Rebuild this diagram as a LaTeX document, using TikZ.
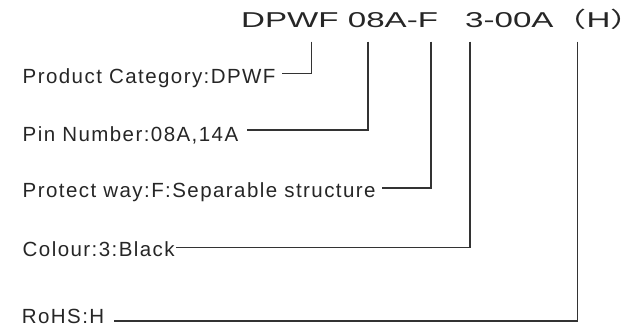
\documentclass[tikz,border=0pt]{standalone}
\usepackage{fontspec}
\setmainfont{Liberation Sans}
\newfontfamily\lblfont[LetterSpace=7]{Liberation Sans}
\newfontfamily\cjk{Noto Sans CJK SC}
\begin{document}
\begin{tikzpicture}[x=1pt,y=-1pt,
  lbl/.style={anchor=base west,inner sep=0pt,font=\fontsize{20.5}{23}\lblfont,text=black!85},
  lead/.style={draw=black!80,line width=1.3pt},
  ttl/.style={anchor=base west,inner sep=0pt,text=black!85}]
\useasboundingbox (0,0) rectangle (638,329);
\node[ttl] (title) at (241,27.3) {\scalebox{1.54}[1]{\fontsize{21.5}{24}\selectfont DPWF 08A-F\hspace{0.82em}3-00A{\cjk （}H\makebox[0.3em][l]{\cjk ）}}};
\node[lbl] (cat) at (22.5,84) {Product Category:DPWF};
\node[lbl] (pin) at (22.5,142) {Pin Number:08A,14A};
\node[lbl] (prot) at (22.5,197.3) {Protect way:F:Separable structure};
\node[lbl] (col) at (22.5,256.7) {Colour:3:Black};
\node[lbl] (rohs) at (21.7,323.3) {RoHS:H};
\coordinate (t1) at (311.7,41.7);
\coordinate (t2) at (368,41.7);
\coordinate (t3) at (431,41.7);
\coordinate (t4) at (470,41.7);
\coordinate (t5) at (577.7,41.7);
\draw[lead] (t1) |- ([xshift=6pt]cat.east |- 0,73.3);
\draw[lead] (t2) |- ([xshift=9pt]pin.east |- 0,130);
\draw[lead] (t3) |- ([xshift=6pt]prot.east |- 0,188);
\draw[lead] (t4) |- ([xshift=1pt]col.east |- 0,247.3);
\draw[lead] (t5) |- ([xshift=10pt]rohs.east |- 0,321);
\end{tikzpicture}
\end{document}
